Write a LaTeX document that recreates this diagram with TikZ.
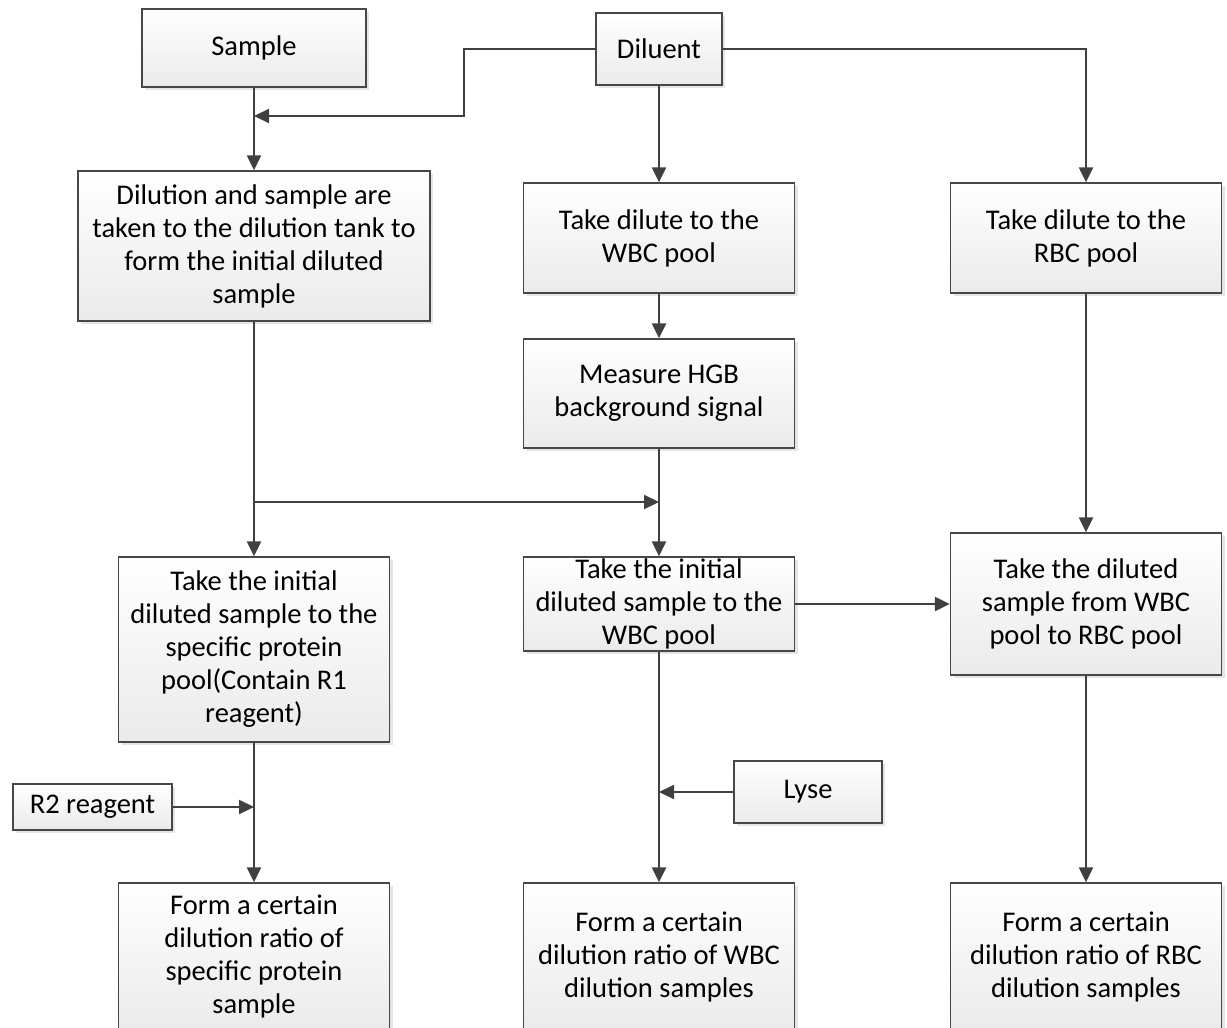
\documentclass[tikz,border=0pt]{standalone}
\usepackage{fontspec}
\setmainfont{Carlito}
\usetikzlibrary{arrows.meta,shadows}

\begin{document}
\begin{tikzpicture}[x=1pt,y=-1pt,font=\fontsize{28.5}{33}\selectfont]
	\tikzstyle{box}=[draw=black!72, line width=1.3pt, top color=white, bottom color=black!8, drop shadow={shadow xshift=3pt, shadow yshift=-3pt, fill=black!10, opacity=1}, align=center, inner sep=0pt]
	\tikzstyle{col}=[box, minimum width=271pt]
	\tikzstyle{arr}=[draw=black!75, line width=2.2pt, -{Triangle[length=15pt,width=14pt]}]

	\clip (0,0) rectangle (1227,1028);

	% top row
	\node[box, minimum width=224pt, minimum height=78pt] (sample) at (254,48) {Sample};
	\node[box, minimum width=126pt, minimum height=72pt] (diluent) at (659,49) {Diluent};

	% left column
	\node[box, minimum width=352pt, minimum height=150pt] (mix) at (254,246) {Dilution and sample are\\taken to the dilution tank to\\form the initial diluted\\sample};
	\node[col, minimum height=185pt] (prot) at (254,649.5) {Take the initial\\diluted sample to the\\specific protein\\pool(Contain R1\\reagent)};
	\node[col, minimum height=147pt] (protC) at (254,956.5) {Form a certain\\dilution ratio of\\specific protein\\sample};
	\node[box, minimum width=159pt, minimum height=46pt] (r2) at (92.5,807) {R2 reagent};

	% middle column
	\node[col, minimum height=110pt] (wbcA) at (659,238) {Take dilute to the\\WBC pool};
	\node[col, minimum height=109pt] (hgb) at (659,393.5) {Measure HGB\\background signal};
	\node[col, minimum height=94pt] (wbcB) at (659,604) {Take the initial\\diluted sample to the\\WBC pool};
	\node[col, minimum height=147pt] (wbcC) at (659,956.5) {Form a certain\\dilution ratio of WBC\\dilution samples};
	\node[box, minimum width=148pt, minimum height=62pt] (lyse) at (808,792) {Lyse};

	% right column
	\node[col, minimum height=110pt] (rbcA) at (1086,238) {Take dilute to the\\RBC pool};
	\node[col, minimum height=142pt] (rbcB) at (1086,604) {Take the diluted\\sample from WBC\\pool to RBC pool};
	\node[col, minimum height=147pt] (rbcC) at (1086,956.5) {Form a certain\\dilution ratio of RBC\\dilution samples};

	% junctions
	\coordinate (kS) at (464,116);
	\coordinate (jS) at (254,116);
	\coordinate (jP) at (254,502);
	\coordinate (jH) at (659,502);
	\coordinate (jR) at (254,807);
	\coordinate (jL) at (659,792);

	\foreach \from/\to in {sample/mix,mix/prot,prot/protC,diluent/wbcA,wbcA/hgb,hgb/wbcB,wbcB/wbcC,rbcA/rbcB,rbcB/rbcC}
	\draw[arr] (\from.south) -- (\to.north);

	\draw[arr] (diluent.west) -| (kS) -- (jS);
	\draw[arr] (diluent.east) -| (rbcA.north);
	\draw[arr] (jP) -- (jH);
	\draw[arr] (wbcB.east) -- (rbcB.west);
	\draw[arr] (r2.east) -- (jR);
	\draw[arr] (lyse.west) -- (jL);
\end{tikzpicture}
\end{document}
